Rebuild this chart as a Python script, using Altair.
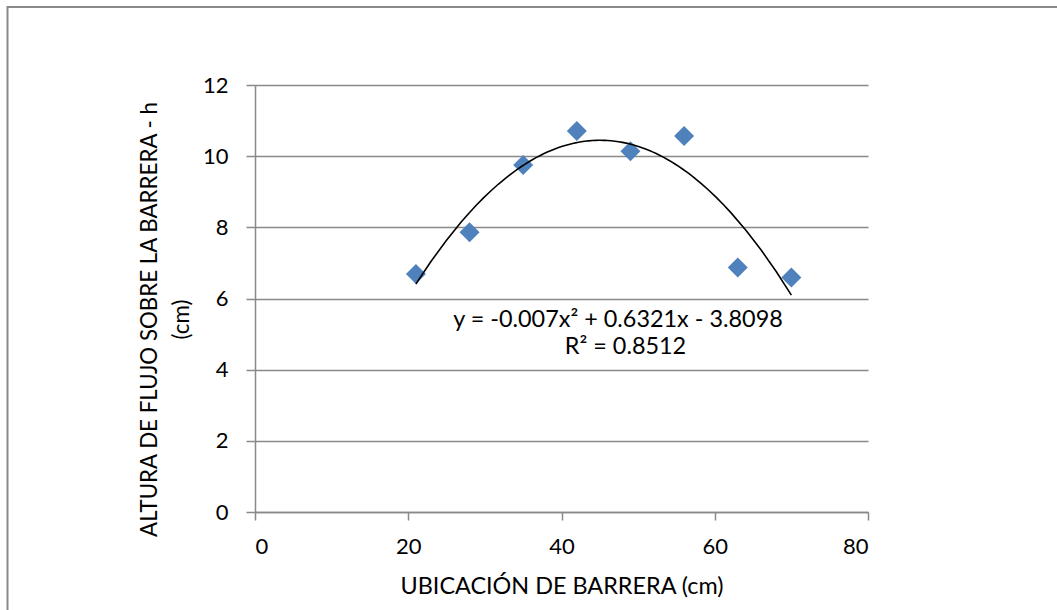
import altair as alt
import pandas as pd

# ---- data ----
x_vals = [21, 28, 35, 42, 49, 56, 63, 70]
y_vals = [6.69, 7.86, 9.75, 10.71, 10.14, 10.57, 6.87, 6.59]
x_ticks = [0, 20, 40, 60, 80]
y_ticks = [0, 2, 4, 6, 8, 10, 12]
eq_line1 = "y = -0.007x² + 0.6321x - 3.8098"
eq_line2 = "R² = 0.8512"
x_title = "UBICACIÓN DE BARRERA (cm)"
y_title = ["ALTURA DE FLUJO SOBRE LA BARRERA - h", "(cm)"]

df = pd.DataFrame({"x": x_vals, "y": y_vals})
one = alt.Data(values=[{"k": 1}])

FONT = "Lato"
FS = 22
FS_BIG = 23.4
GRAY = "#898989"
BLUE = "#4F81BD"

xscale = alt.Scale(domain=[0, 80], nice=False)
yscale = alt.Scale(domain=[0, 12], nice=False)

points = alt.Chart(df).mark_point(
    shape="diamond", filled=True, size=400, color=BLUE, opacity=1
).encode(
    x=alt.X("x:Q", scale=xscale, axis=alt.Axis(
        values=x_ticks, title=x_title, grid=False, tickSize=8,
        labelPadding=16, titleY=81, titleBaseline="alphabetic",
        titleFontSize=FS_BIG)),
    y=alt.Y("y:Q", scale=yscale, axis=alt.Axis(
        values=y_ticks, title=y_title, grid=True, tickSize=9,
        labelPadding=18, titleAngle=-90, titleX=-99, titleY=234,
        titleAlign="center", titleBaseline="alphabetic", titleLineHeight=32,
        titleFontSize=22.3)),
)

trend = alt.Chart(df).transform_regression(
    "x", "y", method="poly", order=2
).mark_line(color="black", strokeWidth=1.6).encode(
    x=alt.X("x:Q", scale=xscale),
    y=alt.Y("y:Q", scale=yscale),
)

eq1 = alt.Chart(one).mark_text(
    text=eq_line1, font=FONT, fontSize=FS_BIG, color="black",
    align="center", baseline="alphabetic"
).encode(x=alt.value(363), y=alt.value(242))

eq2 = alt.Chart(one).mark_text(
    text=eq_line2, font=FONT, fontSize=FS_BIG, color="black",
    align="center", baseline="alphabetic"
).encode(x=alt.value(370.5), y=alt.value(269))

frame = alt.Chart(one).mark_rect(
    fillOpacity=0, stroke=GRAY, strokeWidth=2
).encode(x=alt.value(-247.5), x2=alt.value(900), y=alt.value(-78), y2=alt.value(700))

chart = alt.layer(frame, points, trend, eq1, eq2).properties(
    width=613, height=427,
    autosize=alt.AutoSizeParams(type="none"),
    padding={"left": 255, "top": 85, "right": 189, "bottom": 98},
    background="white",
).configure_axis(
    labelFont=FONT, titleFont=FONT, labelFontSize=FS, titleFontSize=FS,
    labelColor="black", titleColor="black", titleFontWeight="normal",
    domainColor=GRAY, tickColor=GRAY, gridColor=GRAY,
    domainWidth=1.5, tickWidth=1.5, gridWidth=1.5,
).configure_view(stroke="transparent")

chart.save("out.html", embed_options={"renderer": "svg", "actions": False})
